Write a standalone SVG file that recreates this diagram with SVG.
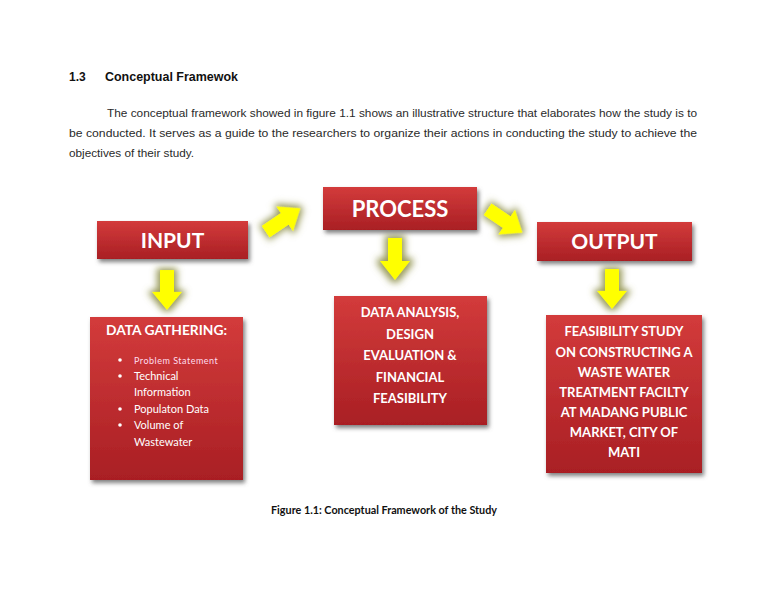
<svg xmlns="http://www.w3.org/2000/svg" width="768" height="594" viewBox="0 0 768 594">
<defs>
<linearGradient id="red" x1="0" y1="0" x2="0" y2="1">
<stop offset="0" stop-color="#d33b3b"/>
<stop offset="1" stop-color="#a91f24"/>
</linearGradient>
<filter id="shadow" x="-10%" y="-10%" width="125%" height="130%">
<feGaussianBlur in="SourceAlpha" stdDeviation="2.2"/>
<feOffset dx="1.5" dy="2.5" result="b"/>
<feFlood flood-color="#555" flood-opacity="0.75"/>
<feComposite in2="b" operator="in"/>
<feMerge><feMergeNode/><feMergeNode in="SourceGraphic"/></feMerge>
</filter>
<filter id="glow" x="-50%" y="-50%" width="200%" height="200%">
<feMorphology in="SourceAlpha" operator="dilate" radius="2.5" result="d"/>
<feGaussianBlur in="d" stdDeviation="3.5" result="b"/>
<feFlood flood-color="#85873a" flood-opacity="0.85"/>
<feComposite in2="b" operator="in"/>
<feMerge><feMergeNode/><feMergeNode in="SourceGraphic"/></feMerge>
</filter>
<path id="arr" d="M-21,-7 H2 V-15 L21,0 L2,15 V7 H-21 Z"/>
</defs>
<style>
.box{fill:url(#red);filter:url(#shadow)}
.ttl{font-family:Lato,"Open Sans","Liberation Sans",sans-serif;font-weight:bold;fill:#fff;text-anchor:middle}
.bt{font-family:Lato,"Open Sans","Liberation Sans",sans-serif;font-weight:bold;fill:#fff;text-anchor:middle;font-size:13px}
.li{font-family:Lato,"Open Sans","Liberation Sans",sans-serif;fill:#fff;font-size:11px}
.para{font-family:"Liberation Sans",Arial,sans-serif;font-size:11px;fill:#2a2a2a}
.ya{fill:#ffff00;filter:url(#glow)}
</style>
<rect width="768" height="594" fill="#fff"/>
<text x="69" y="81" font-family="Liberation Sans,Arial,sans-serif" font-weight="bold" font-size="12" fill="#111">1.3</text>
<text x="105" y="81" font-family="Liberation Sans,Arial,sans-serif" font-weight="bold" font-size="12" fill="#111" textLength="133" lengthAdjust="spacingAndGlyphs">Conceptual Framewok</text>
<text class="para" x="107" y="117" textLength="590" lengthAdjust="spacingAndGlyphs">The conceptual framework showed in figure 1.1 shows an illustrative structure that elaborates how the study is to</text>
<text class="para" x="69" y="137" textLength="628" lengthAdjust="spacingAndGlyphs">be conducted. It serves as a guide to the researchers to organize their actions in conducting the study to achieve the</text>
<text class="para" x="69" y="157" textLength="125" lengthAdjust="spacingAndGlyphs">objectives of their study.</text>

<g id="connectors">
<use href="#arr" class="ya" transform="translate(283,220) rotate(-34)"/>
<use href="#arr" class="ya" transform="translate(505,221) rotate(34)"/>
<use href="#arr" class="ya" transform="translate(167,290) rotate(90) scale(0.95,1)"/>
<use href="#arr" class="ya" transform="translate(395,259) rotate(90)"/>
<use href="#arr" class="ya" transform="translate(612,289) rotate(90) scale(0.95,1)"/>
</g>

<g id="input">
<rect class="box" x="97" y="221" width="151" height="38"/>
<text class="ttl" x="172.5" y="248" font-size="21">INPUT</text>
</g>
<g id="process">
<rect class="box" x="323" y="187" width="154" height="43"/>
<text class="ttl" x="400" y="217" font-size="22">PROCESS</text>
</g>
<g id="output">
<rect class="box" x="537" y="222" width="155" height="39"/>
<text class="ttl" x="614.5" y="249" font-size="21">OUTPUT</text>
</g>

<g id="data-gathering">
<rect class="box" x="90" y="317" width="153" height="163"/>
<text class="bt" x="166.5" y="335" font-size="14" textLength="121" lengthAdjust="spacingAndGlyphs">DATA GATHERING:</text>
<g class="li">
<circle cx="120" cy="360" r="1.8" fill="#fff"/>
<text x="134" y="364" font-size="9" letter-spacing="0.5" fill="#fde">Problem Statement</text>
<circle cx="120" cy="376" r="1.8" fill="#fff"/>
<text x="134" y="380">Technical</text>
<text x="134" y="396">Information</text>
<circle cx="120" cy="409" r="1.8" fill="#fff"/>
<text x="134" y="413">Populaton Data</text>
<circle cx="120" cy="425" r="1.8" fill="#fff"/>
<text x="134" y="429">Volume of</text>
<text x="134" y="446">Wastewater</text>
</g>
</g>

<g id="analysis">
<rect class="box" x="334" y="296" width="153" height="129"/>
<g font-size="13.6">
<text class="bt" x="410" y="317" font-size="13.6">DATA ANALYSIS,</text>
<text class="bt" x="410" y="339" font-size="13.6">DESIGN</text>
<text class="bt" x="410" y="360" font-size="13.6">EVALUATION &amp;</text>
<text class="bt" x="410" y="382" font-size="13.6">FINANCIAL</text>
<text class="bt" x="410" y="403" font-size="13.6">FEASIBILITY</text>
</g>
</g>

<g id="feasibility">
<rect class="box" x="546" y="315" width="156" height="158"/>
<text class="bt" x="624" y="336" font-size="12.5">FEASIBILITY STUDY</text>
<text class="bt" x="624" y="357" font-size="12.5">ON CONSTRUCTING A</text>
<text class="bt" x="624" y="377" font-size="12.5">WASTE WATER</text>
<text class="bt" x="624" y="397" font-size="12.5">TREATMENT FACILTY</text>
<text class="bt" x="624" y="417" font-size="12.5">AT MADANG PUBLIC</text>
<text class="bt" x="624" y="437" font-size="12.5">MARKET, CITY OF</text>
<text class="bt" x="624" y="457" font-size="12.5">MATI</text>
</g>

<text x="384" y="514" font-family="Lato,'Open Sans','Liberation Sans',sans-serif" font-weight="bold" font-size="10.5" fill="#111" text-anchor="middle" textLength="226" lengthAdjust="spacingAndGlyphs">Figure 1.1: Conceptual Framework of the Study</text>
</svg>
